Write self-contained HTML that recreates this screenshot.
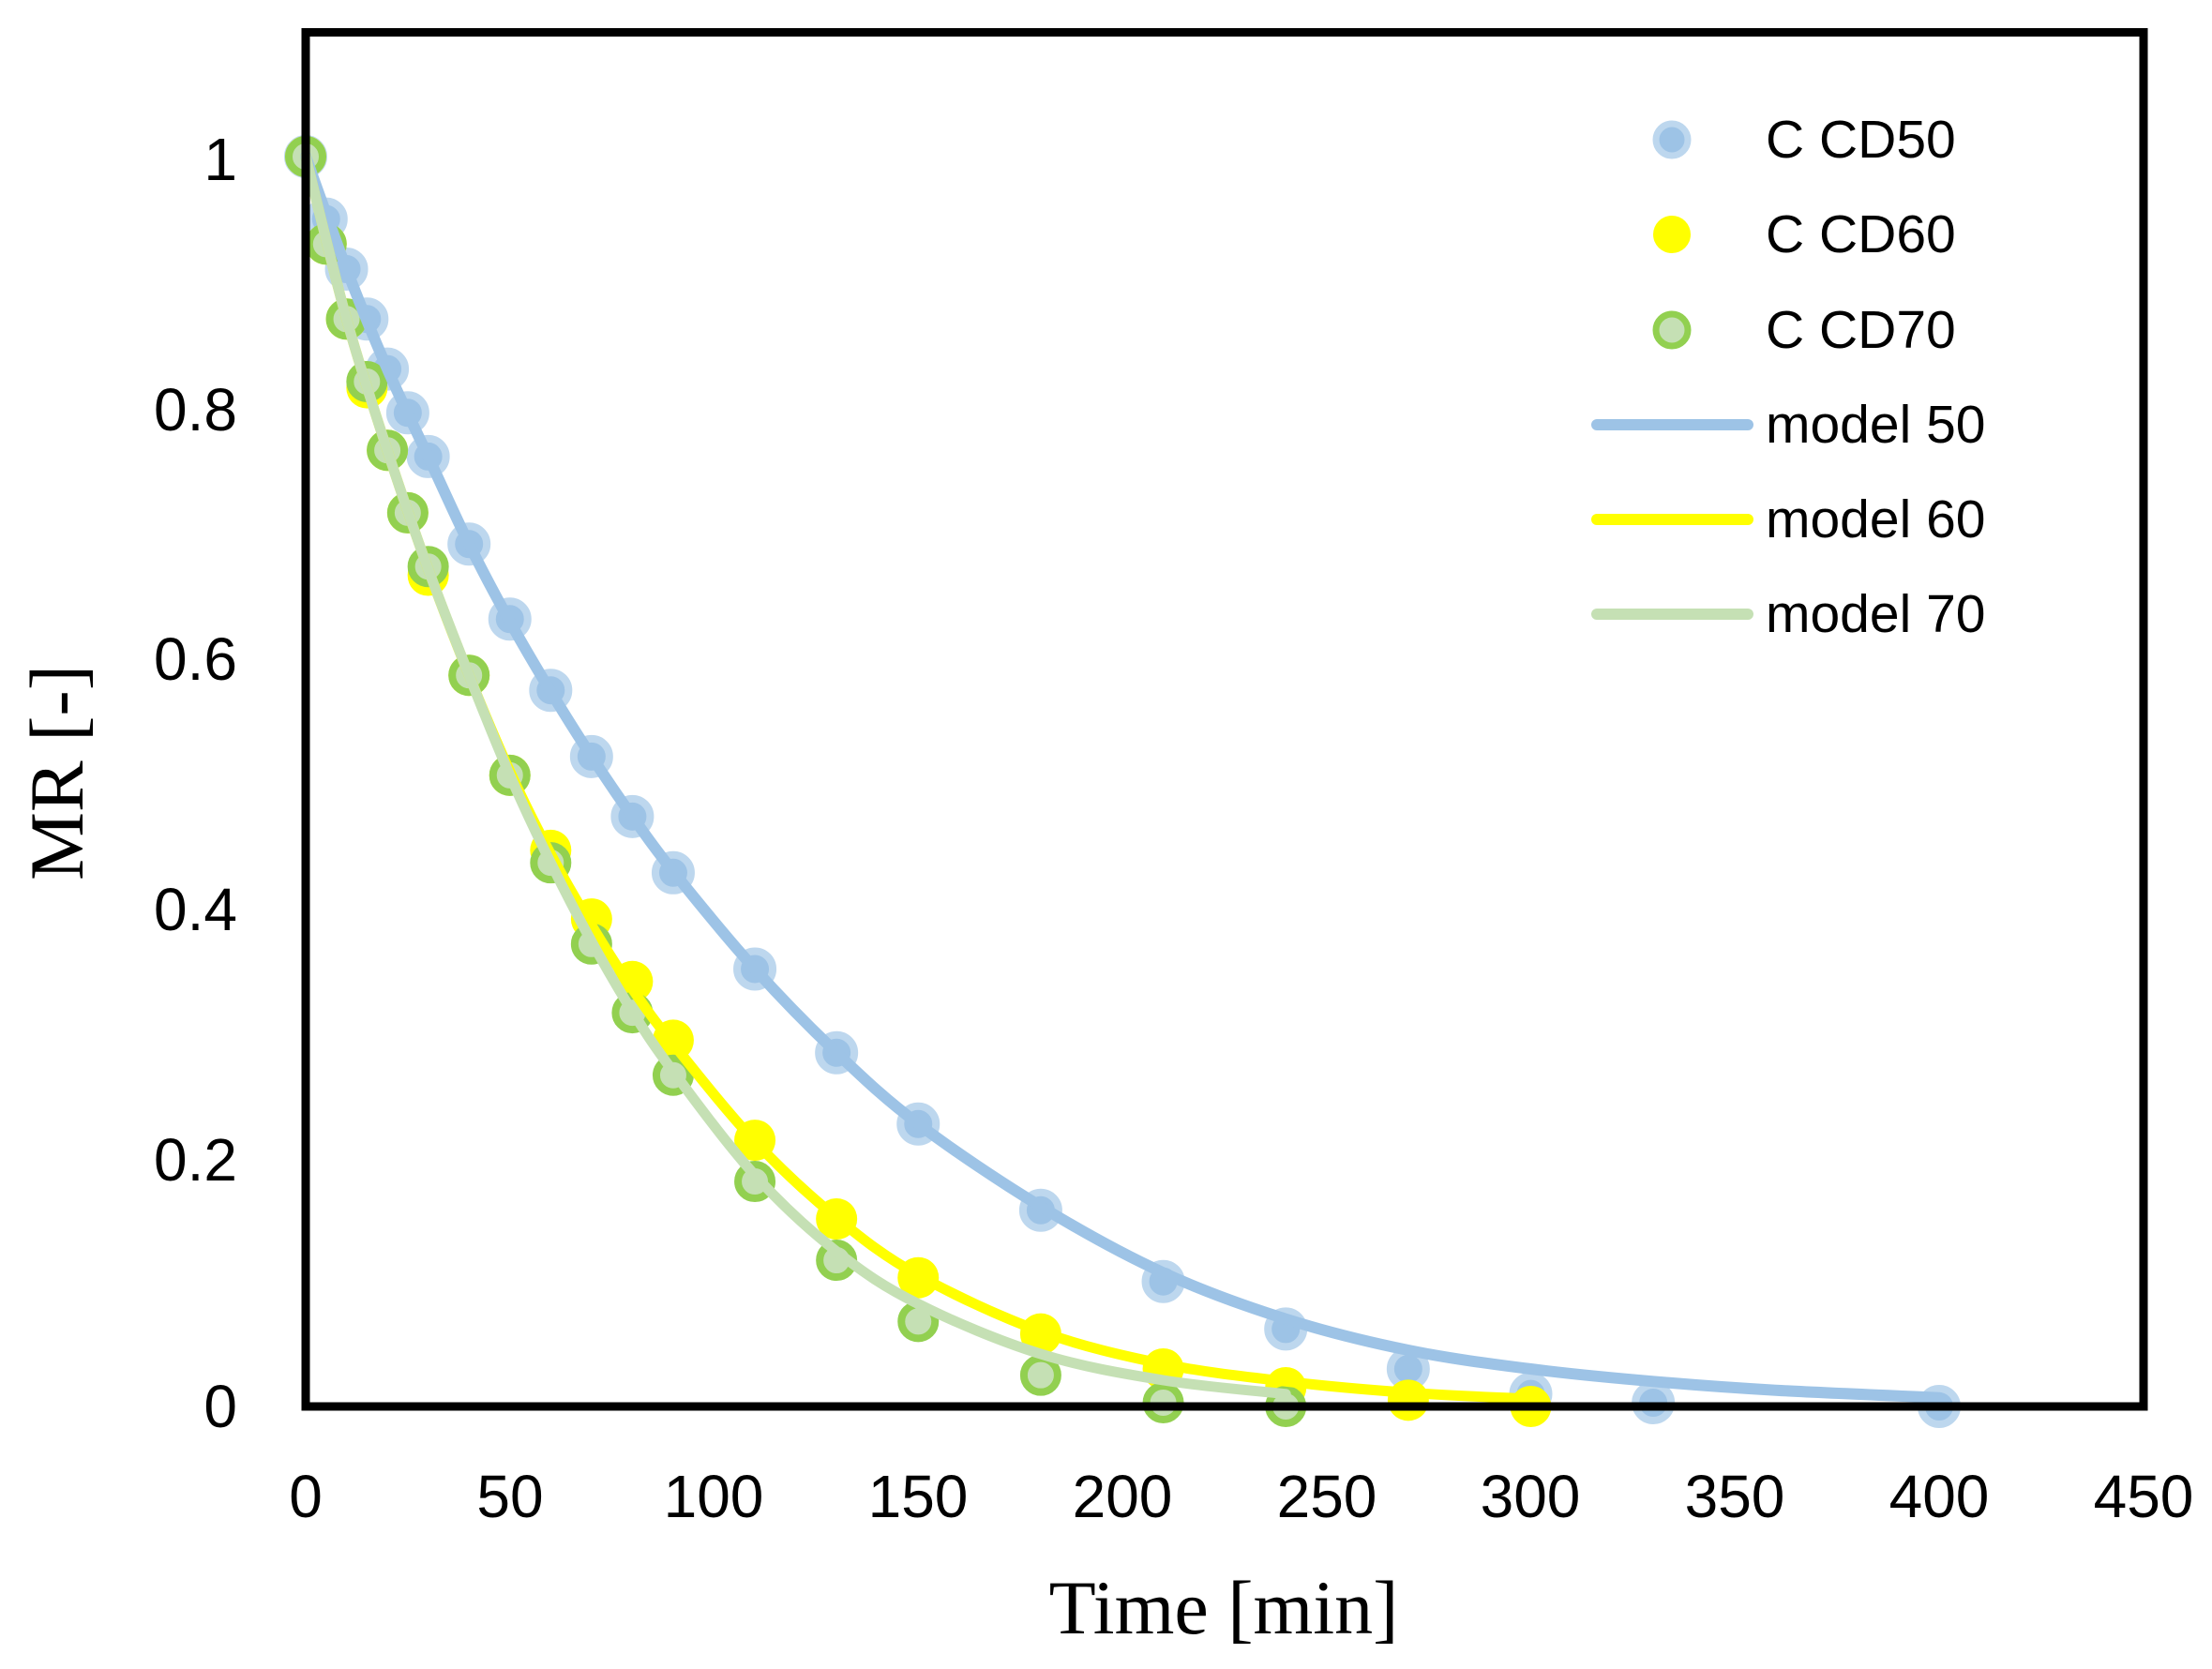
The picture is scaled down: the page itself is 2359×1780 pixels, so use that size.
<!DOCTYPE html>
<html><head><meta charset="utf-8"><style>
html,body{margin:0;padding:0;background:#fff;}
svg{display:block;}
</style></head><body>
<svg id="s" width="2359" height="1780" xmlns="http://www.w3.org/2000/svg">
<rect width="2359" height="1780" fill="#fff"/>
<g id="data"></g>
<rect x="326" y="34.5" width="1960" height="1465.5" fill="none" stroke="#000" stroke-width="9"/>
<g font-family="Liberation Sans, sans-serif" font-size="64" fill="#000" text-anchor="end">
<text x="253" y="192">1</text>
<text x="253" y="459">0.8</text>
<text x="253" y="725">0.6</text>
<text x="253" y="992">0.4</text>
<text x="253" y="1259">0.2</text>
<text x="253" y="1522">0</text>
</g>
<g font-family="Liberation Sans, sans-serif" font-size="64" fill="#000" text-anchor="middle">
<text x="326" y="1618">0</text>
<text x="544" y="1618">50</text>
<text x="761" y="1618">100</text>
<text x="979" y="1618">150</text>
<text x="1197" y="1618">200</text>
<text x="1415" y="1618">250</text>
<text x="1632" y="1618">300</text>
<text x="1850" y="1618">350</text>
<text x="2068" y="1618">400</text>
<text x="2286" y="1618">450</text>
</g>
<text x="1305" y="1742" font-family="Liberation Serif, serif" font-size="82" text-anchor="middle">Time [min]</text>
<text transform="translate(88,824) rotate(-90)" font-family="Liberation Serif, serif" font-size="82" text-anchor="middle">MR [-]</text>
<g font-family="Liberation Sans, sans-serif" font-size="57" fill="#000">
<circle cx="1783" cy="149" r="17" fill="#9DC3E6" stroke="#BDD7EE" stroke-width="7"/>
<text x="1883" y="168">C CD50</text>
<circle cx="1783" cy="250" r="20" fill="#FFFF00"/>
<text x="1883" y="269">C CD60</text>
<circle cx="1783" cy="352" r="17" fill="#C5E0B4" stroke="#92D050" stroke-width="7"/>
<text x="1883" y="371">C CD70</text>
<line x1="1703" y1="453" x2="1864" y2="453" stroke="#9DC3E6" stroke-width="12" stroke-linecap="round"/>
<text x="1883" y="472">model 50</text>
<line x1="1703" y1="554" x2="1864" y2="554" stroke="#FFFF00" stroke-width="12" stroke-linecap="round"/>
<text x="1883" y="573">model 60</text>
<line x1="1703" y1="655" x2="1864" y2="655" stroke="#C5E0B4" stroke-width="12" stroke-linecap="round"/>
<text x="1883" y="674">model 70</text>
</g>
</svg>
<script>
(function(){
var X=function(t){return 326+4.355*t;},Y=function(m){return 1500-1333*m;};
var b=[[0,1],[5,0.95],[10,0.91],[15,0.87],[20,0.83],[25,0.795],[30,0.76],[40,0.69],[50,0.63],[60,0.573],[70,0.52],[80,0.472],[90,0.427],[110,0.35],[130,0.283],[150,0.226],[180,0.157],[210,0.1],[240,0.062],[270,0.03],[300,0.01],[330,0.003],[400,0]];
var y=[[0,1],[5,0.93],[10,0.87],[15,0.815],[20,0.765],[25,0.715],[30,0.665],[40,0.585],[50,0.505],[60,0.445],[70,0.39],[80,0.34],[90,0.293],[110,0.213],[130,0.15],[150,0.103],[180,0.058],[210,0.03],[240,0.015],[270,0.005],[300,0]];
var g=[[0,1],[5,0.93],[10,0.87],[15,0.82],[20,0.765],[25,0.715],[30,0.672],[40,0.585],[50,0.505],[60,0.435],[70,0.37],[80,0.315],[90,0.265],[110,0.18],[130,0.117],[150,0.068],[180,0.025],[210,0.003],[240,0]];
var mb=[[0,1],[10,0.91],[20,0.83],[30,0.76],[40,0.69],[50,0.628],[60,0.572],[70,0.52],[80,0.472],[90,0.428],[110,0.35],[130,0.283],[150,0.226],[180,0.16],[210,0.107],[240,0.07],[270,0.045],[300,0.03],[330,0.02],[360,0.013],[400,0.007]];
var my=[[0,1],[10,0.87],[20,0.765],[30,0.67],[40,0.585],[50,0.508],[60,0.442],[70,0.385],[80,0.334],[90,0.29],[110,0.212],[130,0.151],[150,0.105],[180,0.06],[210,0.034],[240,0.02],[270,0.011],[300,0.006]];
var mg=[[0,1],[10,0.87],[20,0.765],[30,0.67],[40,0.585],[50,0.505],[60,0.435],[70,0.372],[80,0.316],[90,0.268],[110,0.185],[130,0.124],[150,0.082],[180,0.042],[210,0.021],[240,0.01]];
function path(p){
 var pts=p.map(function(q){return [X(q[0]),Y(q[1])];});
 var d='M'+pts[0][0].toFixed(1)+' '+pts[0][1].toFixed(1);
 for(var i=0;i<pts.length-1;i++){
  var p0=pts[i>0?i-1:i],p1=pts[i],p2=pts[i+1],p3=pts[i+2<pts.length?i+2:i+1];
  var c1=[p1[0]+(p2[0]-p0[0])/6,p1[1]+(p2[1]-p0[1])/6];
  var c2=[p2[0]-(p3[0]-p1[0])/6,p2[1]-(p3[1]-p1[1])/6];
  d+=' C'+c1[0].toFixed(1)+' '+c1[1].toFixed(1)+' '+c2[0].toFixed(1)+' '+c2[1].toFixed(1)+' '+p2[0].toFixed(1)+' '+p2[1].toFixed(1);
 }
 return d;}
var h='';
b.forEach(function(q){h+='<circle cx="'+X(q[0])+'" cy="'+Y(q[1])+'" r="19" fill="#9DC3E6" stroke="#BDD7EE" stroke-width="8"/>';});
y.forEach(function(q){h+='<circle cx="'+X(q[0])+'" cy="'+Y(q[1])+'" r="22" fill="#FFFF00"/>';});
g.forEach(function(q){h+='<circle cx="'+X(q[0])+'" cy="'+Y(q[1])+'" r="18" fill="#C5E0B4" stroke="#92D050" stroke-width="8"/>';});
h+='<path d="'+path(mb)+'" fill="none" stroke="#9DC3E6" stroke-width="12" stroke-linejoin="round" stroke-linecap="round"/>';
h+='<path d="'+path(my)+'" fill="none" stroke="#FFFF00" stroke-width="11" stroke-linejoin="round" stroke-linecap="round"/>';
h+='<path d="'+path(mg)+'" fill="none" stroke="#C5E0B4" stroke-width="11" stroke-linejoin="round" stroke-linecap="round"/>';
document.getElementById('data').innerHTML=h;
})();
</script>
</body></html>
